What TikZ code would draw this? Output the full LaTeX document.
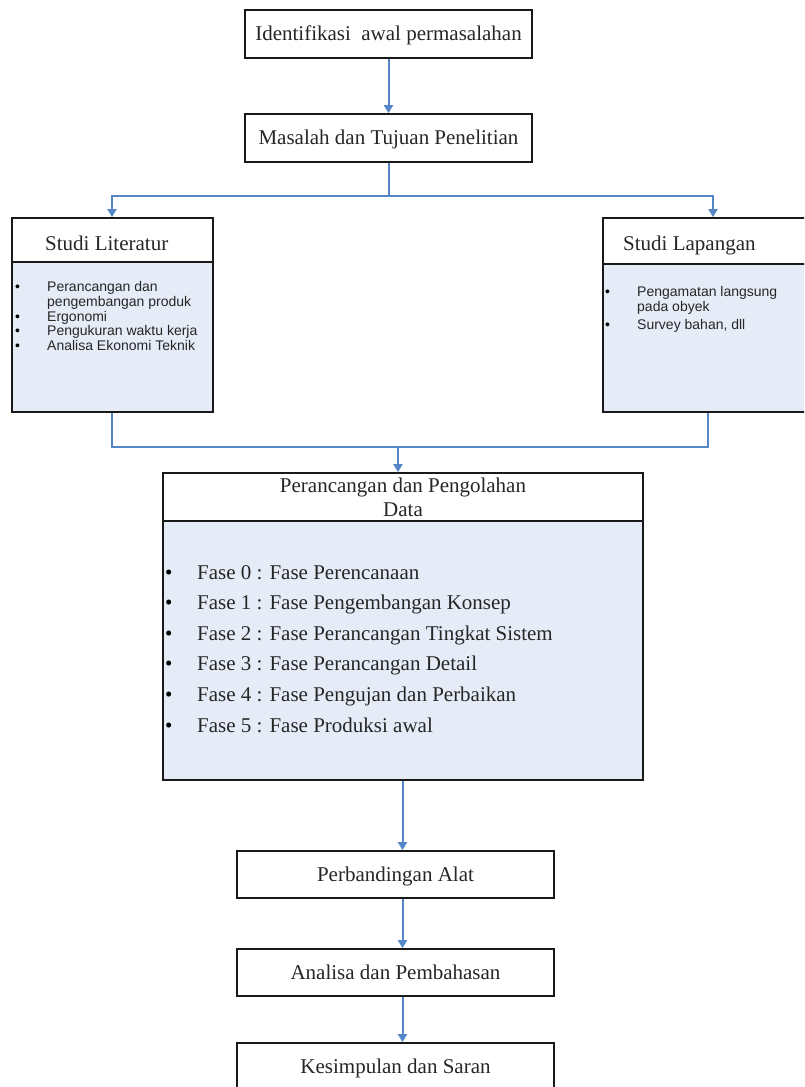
\documentclass[tikz,border=0pt]{standalone}
\usepackage{fontspec}
\setmainfont{Liberation Serif}
\newfontfamily\sansf{Liberation Sans}
\usetikzlibrary{arrows.meta}
\definecolor{lineblue}{RGB}{84,134,200}
\definecolor{bodyfill}{RGB}{230,236,247}
\newcommand\mainsz{\fontsize{21}{24}\selectfont}
\newcommand\smallsz{\sansf\fontsize{14}{15}\selectfont}
\newcommand\bul{\makebox[32pt][l]{\textcolor{black}{\textbullet}}}
\begin{document}
\begin{tikzpicture}[x=1pt,y=-1pt,
  box/.style={draw=black!90, line width=1.8pt, fill=white, inner sep=0pt, font=\mainsz,
              text height=13pt, text depth=0pt},
  body/.style={draw=black!90, line width=1.8pt, fill=bodyfill, inner sep=0pt},
  ln/.style={draw=lineblue, line width=2pt},
  arr/.style={ln, -{Triangle[width=9pt,length=8pt]}},
  txt/.style={inner sep=0pt, anchor=base west, font=\mainsz},
  stxt/.style={inner sep=0pt, anchor=base west, font=\smallsz},
  every node/.append style={text=black!85}
]
\clip (0,0) rectangle (804,1087);
\fill[white] (0,0) rectangle (804,1087);

% top boxes
\node[box, minimum width=287pt, minimum height=48pt] (id) at (388.5,34) {Identifikasi\ \ awal permasalahan};
\node[box, minimum width=287pt, minimum height=48pt] (mt) at (388.5,138) {Masalah dan Tujuan Penelitian};

% Studi Literatur
\node[body, minimum width=201pt, minimum height=150pt] (litB) at (112.5,337) {};
\node[box, minimum width=201pt, minimum height=44pt] (litH) at (112.5,240) {};
\node[txt] (litT) at (45,250) {Studi Literatur};
\node[stxt] (l1) at (15,291.5) {\bul Perancangan dan};
\node[stxt] (l2) at (47,306.3) {pengembangan produk};
\node[stxt] (l3) at (15,321.1) {\bul Ergonomi};
\node[stxt] (l4) at (15,335.9) {\bul Pengukuran waktu kerja};
\node[stxt] (l5) at (15,350.7) {\bul Analisa Ekonomi Teknik};

% Studi Lapangan
\node[body, minimum width=227pt, minimum height=148pt] (lapB) at (716.5,338) {};
\node[box, minimum width=227pt, minimum height=46pt] (lapH) at (716.5,241) {};
\node[txt] (lapT) at (623,250.5) {Studi Lapangan};
\node[stxt] (p1) at (605,296.5) {\bul Pengamatan langsung};
\node[stxt] (p2) at (637,311.3) {pada obyek};
\node[stxt] (p3) at (605,329.5) {\bul Survey bahan, dll};

% Perancangan dan Pengolahan Data
\node[body, minimum width=480pt, minimum height=259pt] (perB) at (403,650.5) {};
\node[draw=black!90, line width=1.8pt, fill=white, inner sep=0pt, font=\mainsz, align=center,
      minimum width=480pt, minimum height=48pt] (perH) at (403,497) {Perancangan dan Pengolahan\\Data};
\foreach \i/\t in {0/Fase Perencanaan, 1/Fase Pengembangan Konsep, 2/Fase Perancangan Tingkat Sistem,
                   3/Fase Perancangan Detail, 4/Fase Pengujan dan Perbaikan, 5/Fase Produksi awal}
  \node[txt] (f\i) at (165,579+30.6*\i) {\bul Fase \i\ : \t};

% lower boxes
\node[box, minimum width=317pt, minimum height=47pt] (pa) at (395.5,874.5) {Perbandingan Alat};
\node[box, minimum width=317pt, minimum height=47pt] (ap) at (395.5,972.5) {Analisa dan Pembahasan};
\node[box, minimum width=317pt, minimum height=57pt, text depth=9pt] (ks) at (395.5,1071.5) {Kesimpulan dan Saran};

% connectors
\draw[arr] (id) -- (mt);
\coordinate (j1) at (388.5,196);
\coordinate (jl) at (112,196);
\coordinate (jr) at (713,196);
\draw[ln] (mt.south) -- (j1);
\draw[arr] (j1) -- (jl) -- (jl |- litH.north);
\draw[arr] (j1) -- (jr) -- (jr |- lapH.north);

\coordinate (bl) at (112,447);
\coordinate (br) at (708,447);
\coordinate (bm) at (398,447);
\draw[ln] (bl |- litB.south) -- (bl) -- (br) -- (br |- lapB.south);
\draw[arr] (bm) -- (bm |- perH.north);

\coordinate (cx) at (402.5,0);
\draw[arr] (cx |- perB.south) -- (cx |- pa.north);
\draw[arr] (cx |- pa.south) -- (cx |- ap.north);
\draw[arr] (cx |- ap.south) -- (cx |- ks.north);
\end{tikzpicture}
\end{document}
